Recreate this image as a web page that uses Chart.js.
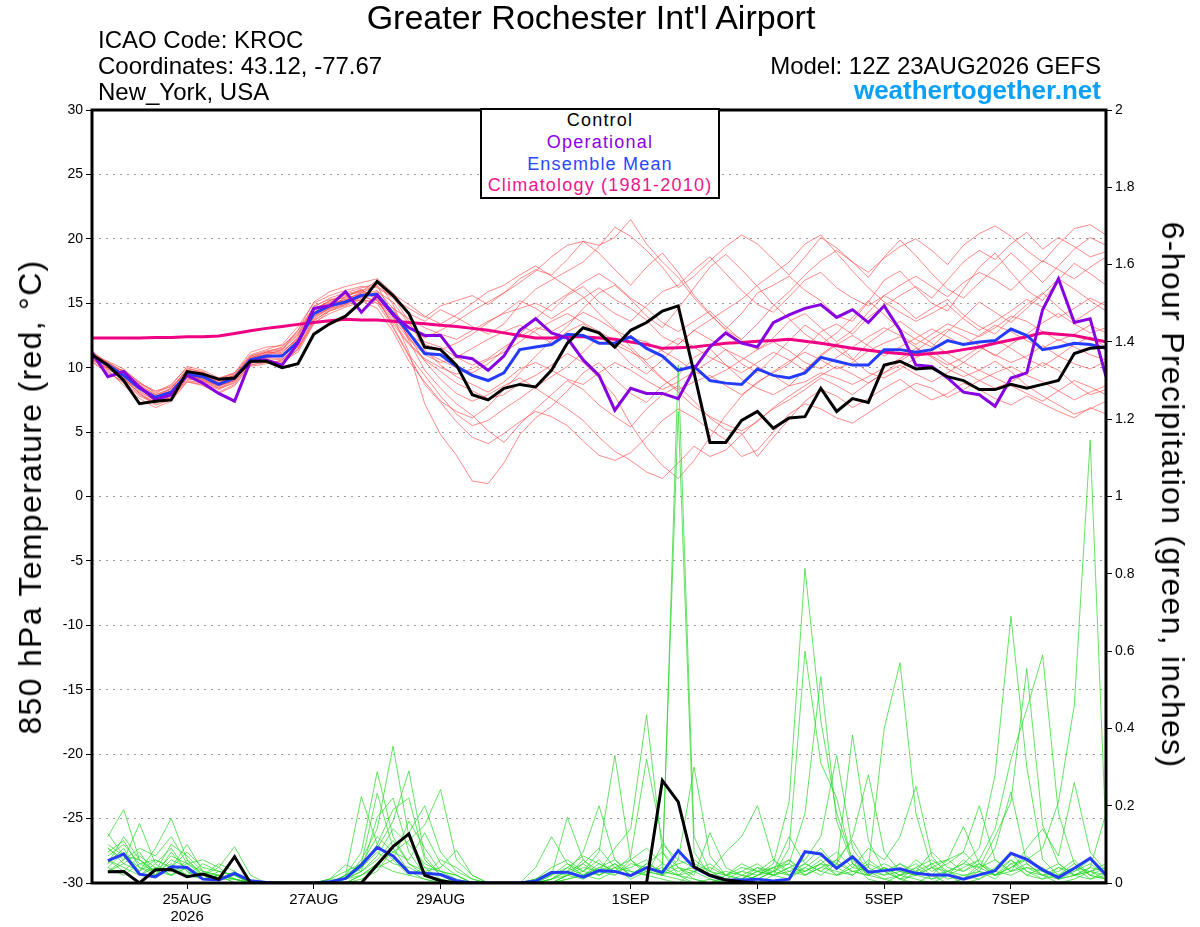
<!DOCTYPE html>
<html>
<head>
<meta charset="utf-8">
<title>KROC GEFS 850 hPa temperature and 6-hour precipitation</title>
<script src="https://cdn.jsdelivr.net/npm/chart.js@4/dist/chart.umd.min.js"></script>
<style>
  body { margin: 0; background: #fff; }
  #wrap { position: relative; width: 1200px; height: 927px; font-family: 'Liberation Sans', Arial, sans-serif; color: #000; overflow: hidden; }
  #chart { position: absolute; left: 0; top: 0; }
  .txt { position: absolute; white-space: nowrap; line-height: 1; }
  #title { left: 591px; top: 0px; font-size: 34px; transform: translateX(-50%); }
  .info { left: 98px; font-size: 24px; }
  .right { right: 99px; text-align: right; }
  #site { font-size: 26px; font-weight: bold; color: #0aa0f5; top: 77px; }
  #legend { position: absolute; left: 480px; top: 108px; width: 240px; height: 91px; box-sizing: border-box;
            border: 2px solid #000; background: #fff; text-align: center; font-size: 18px; letter-spacing: 1.2px;
            line-height: 21.7px; padding-top: 0.2px; z-index: 2; }
  .axisTitle { position: absolute; white-space: nowrap; line-height: 1; font-size: 32px; letter-spacing: 1.3px; }
  #leftTitle { left: 30px; top: 497px; transform: translate(-50%, -50%) rotate(-90deg); }
  #rightTitle { left: 1173px; top: 495px; transform: translate(-50%, -50%) rotate(90deg); }
</style>
</head>
<body>
<div id="wrap">
  <canvas id="chart" width="1200" height="927"></canvas>
  <div class="txt" id="title">Greater Rochester Int'l Airport</div>
  <div class="txt info" style="top:28px">ICAO Code: KROC</div>
  <div class="txt info" style="top:54px">Coordinates: 43.12, -77.67</div>
  <div class="txt info" style="top:80px">New_York, USA</div>
  <div class="txt right" style="top:54px; font-size:24px">Model: 12Z 23AUG2026 GEFS</div>
  <div class="txt right" id="site">weathertogether.net</div>
  <div id="legend">
    <div style="color:#000">Control</div>
    <div style="color:#8c00e6">Operational</div>
    <div style="color:#2848ff">Ensemble Mean</div>
    <div style="color:#f0148c">Climatology (1981-2010)</div>
  </div>
  <div class="axisTitle" id="leftTitle">850 hPa Temperature (red, °C)</div>
  <div class="axisTitle" id="rightTitle">6-hour Precipitation (green, inches)</div>
</div>

<script>
// forecast hours from 12Z 23AUG2026, every 6 hours out to 384 h
const forecastHours = [0,6,12,18,24,30,36,42,48,54,60,66,72,78,84,90,96,102,108,114,120,126,132,138,144,150,156,162,168,174,180,186,192,198,204,210,216,222,228,234,240,246,252,258,264,270,276,282,288,294,300,306,312,318,324,330,336,342,348,354,360,366,372,378,384];

// date ticks (00Z of each labelled day)
const tickHours = [36, 84, 132, 204, 252, 300, 348];
const tickLabels = [['25AUG', '2026'], '27AUG', '29AUG', '1SEP', '3SEP', '5SEP', '7SEP'];

// 850 hPa temperature (C)
const controlTemp = [
  11.0, 10.2, 9.0, 7.2, 7.4, 7.5, 9.7, 9.5, 9.1, 9.2,
  10.5, 10.5, 10.0, 10.3, 12.6, 13.4, 14.0, 15.1, 16.7, 15.6,
  14.2, 11.6, 11.4, 10.2, 7.9, 7.5, 8.4, 8.7, 8.5, 9.8,
  11.9, 13.1, 12.7, 11.6, 12.9, 13.5, 14.4, 14.8, 9.6, 4.2,
  4.2, 5.9, 6.6, 5.3, 6.1, 6.2, 8.4, 6.6, 7.6, 7.3,
  10.2, 10.5, 9.9, 10.0, 9.3, 9.0, 8.3, 8.3, 8.7, 8.4,
  8.7, 9.0, 11.1, 11.5, 11.6
];
const operationalTemp = [
  11.2, 9.3, 9.7, 8.5, 7.5, 7.9, 9.4, 8.8, 8.0, 7.4,
  10.5, 10.6, 10.2, 11.9, 14.6, 14.8, 15.9, 14.3, 15.6, 14.1,
  13.1, 12.5, 12.5, 10.9, 10.7, 9.8, 10.9, 12.9, 13.8, 12.7,
  12.3, 10.6, 9.4, 6.7, 8.4, 8.0, 8.0, 7.6, 9.9, 11.6,
  12.7, 11.9, 11.6, 13.5, 14.1, 14.6, 14.9, 13.9, 14.5, 13.5,
  14.8, 12.9, 10.2, 10.1, 9.2, 8.1, 7.9, 7.0, 9.2, 9.6,
  14.5, 16.9, 13.5, 13.8, 9.3
];
const meanTemp = [
  10.9, 10.2, 9.4, 8.4, 7.7, 8.1, 9.5, 9.3, 8.7, 9.2,
  10.6, 10.9, 10.9, 12.0, 14.2, 14.8, 15.1, 15.6, 15.7, 14.2,
  12.7, 11.1, 11.0, 10.1, 9.4, 9.0, 9.6, 11.4, 11.6, 11.8,
  12.6, 12.5, 11.9, 11.9, 12.4, 11.5, 10.9, 9.8, 10.1, 9.0,
  8.8, 8.7, 9.9, 9.4, 9.2, 9.6, 10.8, 10.5, 10.2, 10.2,
  11.4, 11.4, 11.2, 11.4, 12.1, 11.8, 12.0, 12.1, 13.0, 12.5,
  11.4, 11.6, 11.9, 11.8, 11.5
];
const climatologyTemp = [
  12.3, 12.3, 12.3, 12.3, 12.35, 12.35, 12.4, 12.4, 12.45, 12.66,
  12.87, 13.05, 13.2, 13.36, 13.5, 13.65, 13.75, 13.7, 13.7, 13.6,
  13.5, 13.4, 13.3, 13.2, 13.05, 12.9, 12.7, 12.5, 12.3, 12.3,
  12.4, 12.4, 12.3, 12.2, 12.0, 11.8, 11.5, 11.55, 11.6, 11.75,
  11.9, 11.95, 12.05, 12.1, 12.2, 12.05, 11.9, 11.7, 11.5, 11.35,
  11.2, 11.1, 11.0, 11.1, 11.2, 11.4, 11.6, 11.9, 12.15, 12.4,
  12.7, 12.6, 12.5, 12.25, 12.0
];

// ensemble member temperatures
const tempM01 = [
  11.2, 10.0, 9.8, 8.9, 8.0, 8.6, 10.1, 9.8, 9.2, 9.6,
  11.0, 11.4, 11.8, 13.2, 15.0, 15.6, 16.0, 16.3, 16.2, 15.4,
  14.6, 13.9, 14.8, 15.2, 15.6, 14.9, 15.8, 16.9, 17.6, 17.2,
  18.4, 19.8, 19.5, 20.1, 21.5, 19.6, 18.2, 17.0, 15.4, 14.1,
  13.0, 14.2, 15.8, 16.4, 17.1, 16.0, 15.2, 14.0, 13.6, 15.1,
  16.8, 17.5, 16.2, 15.0, 14.4, 16.1, 17.8, 18.9, 17.4, 16.0,
  15.2, 16.8, 18.1, 17.3, 16.4
];
const tempM02 = [
  10.7, 9.8, 8.6, 7.6, 6.9, 7.4, 8.9, 8.6, 8.0, 8.6,
  10.1, 10.3, 10.6, 11.4, 13.6, 14.5, 15.0, 15.8, 16.4, 14.0,
  11.2, 7.2, 4.8, 3.2, 1.2, 1.0, 2.6, 4.8, 6.1, 7.0,
  8.2, 9.6, 10.4, 9.1, 8.0, 7.3, 8.6, 9.4, 10.8, 11.5,
  10.2, 9.1, 8.4, 7.9, 8.6, 9.8, 11.0, 11.9, 10.7, 9.6,
  9.2, 9.9, 10.8, 11.3, 10.4, 9.7, 9.0, 8.4, 8.9, 9.6,
  10.4, 9.8, 8.7, 7.9, 8.3
];
const tempM03 = [
  10.4, 9.6, 8.9, 7.9, 7.3, 7.7, 9.0, 8.8, 8.3, 8.9,
  10.2, 10.5, 10.2, 11.5, 13.8, 14.6, 15.5, 16.1, 15.2, 13.4,
  11.8, 10.6, 9.7, 8.8, 8.2, 7.6, 7.9, 8.8, 9.4, 10.2,
  11.1, 10.4, 9.2, 7.8, 5.6, 3.8, 2.4, 1.4, 2.8, 4.6,
  6.3, 7.8, 8.9, 9.6, 10.3, 11.5, 12.8, 13.4, 12.6, 13.9,
  14.8, 15.6, 16.3, 15.4, 16.8, 18.2, 19.1, 18.4, 19.6, 20.5,
  19.2, 20.1, 19.4, 18.6, 19.0
];
const tempM04 = [
  11.0, 10.5, 9.9, 8.8, 8.2, 8.5, 9.7, 9.6, 9.1, 9.5,
  10.9, 11.3, 11.5, 12.6, 14.8, 15.3, 15.4, 15.7, 15.0, 14.6,
  13.8, 13.1, 12.6, 12.2, 12.9, 13.6, 14.2, 14.6, 15.0, 14.4,
  15.6, 16.3, 15.1, 14.2, 13.6, 14.8, 15.9, 16.4, 17.6, 18.6,
  17.3, 16.0, 14.9, 14.3, 15.5, 16.8, 17.4, 16.2, 15.4, 14.8,
  15.6, 14.9, 13.8, 14.6, 15.3, 14.1, 13.2, 12.6, 13.8, 14.9,
  15.8, 14.7, 13.6, 14.4, 15.2
];
const tempM05 = [
  10.6, 9.9, 9.1, 8.0, 7.1, 7.5, 9.2, 8.9, 8.4, 8.8,
  10.4, 10.7, 10.6, 11.8, 13.9, 14.6, 15.2, 15.9, 16.8, 14.9,
  12.1, 9.8, 8.4, 7.2, 6.3, 5.1, 4.2, 5.6, 6.8, 7.9,
  9.0, 8.3, 7.1, 6.2, 5.4, 6.8, 7.9, 8.6, 7.4, 6.1,
  5.2, 4.9, 3.1, 4.6, 6.0, 7.4, 8.3, 7.8, 6.9, 7.6,
  8.4, 9.1, 8.2, 7.5, 8.0, 8.8, 8.3, 7.6, 7.1, 7.8,
  7.2, 6.6, 6.1, 6.9, 6.4
];
const tempM06 = [
  11.3, 10.3, 9.5, 8.6, 7.9, 8.3, 9.8, 9.4, 8.9, 9.3,
  10.8, 11.0, 11.2, 12.3, 14.0, 14.6, 14.9, 15.4, 15.9, 15.1,
  13.4, 12.0, 11.6, 10.8, 10.2, 10.7, 11.6, 12.4, 13.1, 12.8,
  13.5, 14.3, 13.7, 12.9, 12.3, 12.0, 11.3, 10.6, 9.7, 9.2,
  9.8, 10.6, 11.4, 12.0, 11.3, 10.4, 9.9, 10.8, 11.6, 12.4,
  13.1, 12.5, 11.8, 12.6, 13.4, 12.9, 12.4, 13.1, 14.0, 13.6,
  12.8, 12.1, 12.6, 13.3, 12.7
];
const tempM07 = [
  10.8, 10.1, 9.3, 8.3, 7.6, 8.0, 9.4, 9.1, 8.5, 9.1,
  10.5, 10.8, 10.7, 11.6, 13.7, 14.4, 14.8, 15.3, 15.0, 13.1,
  10.9, 8.7, 7.3, 5.8, 4.6, 4.1, 4.9, 5.8, 6.6, 6.2,
  5.5, 4.3, 3.2, 2.8, 3.4, 4.6, 5.9, 6.8, 6.1, 5.2,
  4.4, 3.1, 3.6, 5.0, 6.4, 7.2, 6.8, 6.1, 5.7, 6.5,
  7.3, 8.1, 8.8, 8.4, 7.7, 8.3, 9.0, 9.6, 10.1, 9.4,
  8.9, 8.2, 7.5, 8.1, 8.6
];
const tempM08 = [
  11.1, 10.4, 9.6, 8.7, 7.9, 8.4, 9.9, 9.7, 9.0, 9.4,
  10.7, 11.2, 11.1, 12.4, 14.5, 15.2, 15.7, 16.0, 15.5, 14.4,
  13.1, 12.3, 12.9, 13.6, 14.4, 15.1, 15.8, 16.6, 17.5, 18.6,
  19.5, 19.8, 18.9, 17.6, 16.4, 17.8, 18.9, 17.4, 15.6, 14.2,
  12.9, 12.2, 13.4, 14.8, 15.9, 17.2, 18.3, 19.1, 18.2, 17.0,
  18.6, 19.9, 18.7, 17.3, 16.1, 15.4, 16.6, 17.7, 18.9, 17.8,
  16.6, 17.9, 19.2, 20.1, 19.5
];
const tempM09 = [
  10.5, 9.7, 8.8, 7.8, 7.2, 7.9, 9.3, 9.2, 8.6, 9.0,
  10.4, 10.6, 10.4, 11.4, 13.5, 14.2, 14.7, 15.1, 15.3, 13.8,
  12.2, 11.0, 10.4, 10.8, 11.5, 12.2, 12.8, 13.3, 12.7, 11.9,
  12.8, 13.4, 12.6, 11.8, 11.2, 10.6, 11.4, 12.3, 11.6, 10.8,
  10.2, 9.6, 10.4, 11.2, 10.6, 9.8, 10.9, 11.8, 12.5, 11.7,
  10.9, 11.6, 12.3, 13.0, 12.4, 11.7, 12.5, 13.3, 12.8, 12.1,
  11.5, 12.2, 11.6, 11.0, 10.6
];
const tempM10 = [
  10.9, 10.0, 9.2, 8.2, 7.4, 7.8, 9.1, 9.0, 8.4, 9.0,
  10.6, 11.1, 11.3, 12.2, 14.3, 15.0, 15.3, 15.2, 14.6, 12.8,
  10.5, 8.9, 7.4, 6.6, 6.1, 7.0, 8.3, 9.6, 10.9, 12.1,
  13.2, 14.6, 15.8, 16.4, 15.3, 14.0, 13.1, 14.6, 16.2, 17.8,
  18.8, 17.6, 16.3, 14.9, 13.8, 12.6, 11.8, 12.7, 13.9, 15.2,
  14.1, 13.0, 12.2, 11.6, 12.8, 13.9, 15.1, 14.3, 13.5, 14.6,
  15.7, 16.9, 16.1, 15.2, 14.4
];
const tempM11 = [
  11.0, 10.3, 9.5, 8.5, 7.8, 8.2, 9.6, 9.4, 8.8, 9.3,
  10.7, 10.9, 11.0, 12.1, 14.1, 14.9, 15.3, 15.8, 15.6, 14.0,
  12.4, 10.5, 9.1, 8.0, 7.4, 7.9, 8.6, 9.2, 8.4, 7.6,
  6.8, 5.9, 4.6, 3.5, 2.8, 1.9, 1.4, 2.6, 3.9, 3.1,
  3.6, 4.8, 5.9, 6.8, 7.5, 8.3, 9.2, 8.6, 7.9, 8.8,
  9.6, 10.2, 9.5, 8.9, 9.6, 10.4, 9.8, 9.2, 8.6, 8.0,
  7.4, 8.2, 9.0, 8.5, 7.9
];
const tempM12 = [
  10.7, 10.2, 9.4, 8.5, 7.8, 8.0, 9.4, 9.2, 8.8, 9.3,
  10.6, 11.0, 11.4, 12.9, 15.1, 15.9, 16.3, 16.6, 16.9, 15.8,
  14.2, 13.6, 14.5, 13.9, 13.2, 12.6, 13.4, 14.9, 16.1, 16.8,
  17.5, 18.2, 19.4, 20.9, 20.2, 19.1, 17.8, 16.2, 17.1, 18.3,
  19.4, 20.3, 19.6, 18.4, 17.2, 18.6, 20.1, 19.3, 18.2, 17.4,
  18.5, 19.4, 20.0, 19.1, 18.0, 19.5, 20.4, 21.0, 20.2, 19.1,
  18.2, 19.6, 20.8, 21.1, 20.3
];
const tempM13 = [
  11.2, 10.4, 9.7, 8.8, 8.1, 8.7, 10.0, 9.6, 9.1, 9.6,
  11.2, 11.6, 11.7, 12.7, 14.6, 15.1, 15.5, 16.0, 16.3, 15.5,
  13.6, 11.4, 10.2, 9.3, 8.7, 8.1, 8.9, 9.9, 10.4, 9.8,
  9.1, 8.7, 9.6, 10.4, 9.8, 9.0, 8.3, 8.9, 9.7, 10.5,
  11.4, 10.8, 10.1, 9.4, 8.6, 8.9, 9.6, 9.2, 8.7, 9.3,
  10.0, 10.7, 11.5, 10.9, 10.2, 10.8, 11.6, 11.0, 10.4, 10.9,
  11.7, 10.9, 10.3, 9.9, 10.5
];
const tempM14 = [
  10.6, 10.0, 9.0, 8.1, 7.5, 7.6, 8.9, 8.7, 8.1, 8.7,
  10.2, 10.4, 10.5, 11.2, 13.4, 14.4, 14.9, 15.6, 16.0, 14.6,
  12.6, 11.8, 11.4, 11.9, 12.6, 13.5, 14.3, 15.2, 14.6, 13.8,
  14.6, 15.4, 16.2, 15.3, 14.6, 13.7, 12.4, 11.8, 12.9, 13.7,
  14.5, 15.3, 16.4, 17.3, 18.2, 19.6, 20.3, 18.9, 17.5, 16.2,
  15.1, 14.3, 13.6, 14.2, 14.9, 13.8, 12.9, 13.6, 14.4, 15.3,
  14.7, 13.9, 14.6, 15.4, 14.8
];
const tempM15 = [
  10.9, 10.4, 9.7, 8.6, 7.7, 8.2, 9.6, 9.5, 9.0, 9.4,
  10.8, 11.2, 11.4, 12.5, 14.6, 15.0, 15.2, 15.5, 15.2, 13.6,
  11.9, 10.7, 10.0, 9.5, 9.9, 10.6, 11.2, 12.0, 12.9, 13.6,
  14.2, 13.5, 12.8, 12.1, 11.4, 10.2, 9.1, 8.3, 8.9, 9.4,
  8.6, 7.9, 8.8, 9.7, 10.5, 11.2, 10.6, 9.9, 10.4, 11.3,
  11.9, 12.4, 11.6, 10.8, 9.9, 9.3, 9.8, 10.5, 9.7, 8.6,
  7.8, 7.1, 6.4, 6.8, 7.4
];
const tempM16 = [
  10.8, 10.1, 9.2, 8.0, 7.3, 7.9, 9.5, 9.0, 8.6, 9.1,
  10.3, 10.8, 11.0, 12.2, 14.4, 15.2, 15.6, 15.9, 15.4, 13.2,
  11.0, 9.4, 7.8, 6.4, 5.5, 5.9, 6.8, 7.6, 8.5, 9.3,
  10.1, 11.2, 12.4, 11.6, 10.3, 9.5, 10.6, 11.8, 12.9, 12.2,
  11.4, 10.3, 9.6, 10.8, 12.1, 13.3, 12.5, 11.4, 10.6, 11.9,
  12.8, 13.6, 12.7, 11.9, 11.1, 10.4, 11.3, 12.2, 11.5, 10.7,
  10.1, 10.9, 11.8, 12.4, 11.6
];
const tempM17 = [
  11.1, 10.2, 9.1, 8.3, 7.7, 8.4, 9.8, 9.6, 8.8, 9.4,
  10.9, 11.2, 11.6, 12.9, 14.7, 15.4, 15.8, 16.2, 16.5, 15.7,
  14.9, 14.0, 13.4, 14.1, 15.0, 15.9, 16.4, 17.2, 17.9, 17.1,
  16.3, 15.5, 14.2, 13.0, 11.6, 10.4, 9.2, 8.1, 7.0, 6.2,
  5.6, 5.1, 5.8, 6.9, 7.8, 8.6, 9.4, 10.1, 9.5, 8.8,
  9.6, 10.5, 11.3, 12.2, 13.0, 12.4, 11.7, 10.9, 11.8, 12.6,
  13.5, 14.2, 13.4, 12.7, 13.1
];
const tempM18 = [
  10.7, 9.9, 9.3, 8.4, 7.6, 8.1, 9.3, 9.1, 8.6, 9.0,
  10.5, 10.8, 11.0, 12.0, 14.0, 14.7, 15.0, 15.5, 15.8, 14.3,
  12.3, 11.2, 10.6, 10.0, 9.6, 10.3, 11.4, 12.6, 13.8, 14.9,
  15.7, 16.6, 17.3, 16.5, 15.4, 14.6, 13.5, 12.8, 13.6, 14.4,
  13.2, 12.1, 11.4, 12.3, 13.6, 14.2, 13.1, 12.0, 12.9, 14.3,
  15.6, 16.4, 17.1, 16.3, 15.5, 16.6, 17.4, 16.8, 16.0, 17.2,
  18.3, 17.6, 16.9, 17.8, 18.6
];

// 6-hour precipitation (inches); no value at hour 0
const controlPrecip = [
  null, 0.029, 0.03, 0, 0.034, 0.035, 0.016, 0.023, 0.01, 0.068,
  0, 0, 0, 0, 0, 0, 0, 0, 0.047, 0.094,
  0.127, 0.02, 0.006, 0, 0, 0, 0, 0, 0, 0,
  0, 0, 0, 0, 0, 0, 0.265, 0.21, 0.042, 0.02,
  0.008, 0.003, 0, 0, 0, 0, 0, 0, 0, 0,
  0, 0, 0, 0, 0, 0, 0, 0, 0, 0,
  0, 0, 0, 0, 0
];
const meanPrecip = [
  null, 0.058, 0.075, 0.023, 0.016, 0.042, 0.04, 0.01, 0.008, 0.025,
  0.006, 0.001, 0, 0, 0, 0.003, 0.012, 0.047, 0.092, 0.07,
  0.027, 0.025, 0.022, 0.006, 0, 0, 0, 0, 0.005, 0.027,
  0.028, 0.015, 0.032, 0.03, 0.019, 0.04, 0.027, 0.084, 0.04, 0.019,
  0.008, 0.008, 0.01, 0.005, 0.01, 0.081, 0.075, 0.038, 0.068, 0.028,
  0.032, 0.037, 0.025, 0.021, 0.021, 0.01, 0.021, 0.032, 0.077, 0.061,
  0.034, 0.014, 0.038, 0.064, 0.021
];

// ensemble member precipitation
const precipM01 = [
  null, 0.12, 0.19, 0.06, 0.03, 0.05, 0.02, 0.01, 0.03, 0.02,
  0, 0, 0, 0, 0, 0, 0.01, 0.06, 0.14, 0.354,
  0.12, 0.04, 0.01, 0, 0, 0, 0, 0, 0, 0.02,
  0.05, 0.03, 0.08, 0.33, 0.06, 0.02, 0.01, 0, 0.03, 0.01,
  0, 0, 0.02, 0.05, 0.21, 0.814, 0.42, 0.18, 0.06, 0.02,
  0.01, 0, 0.03, 0.02, 0, 0.01, 0.04, 0.02, 0.06, 0.03,
  0.01, 0.02, 0.05, 0.02, 0.01
];
const precipM02 = [
  null, 0.09, 0.06, 0.154, 0.05, 0.02, 0.04, 0.01, 0.02, 0,
  0, 0, 0, 0, 0, 0, 0.02, 0.08, 0.288, 0.12,
  0.05, 0.02, 0, 0, 0, 0, 0, 0, 0.01, 0.03,
  0.02, 0.06, 0.03, 0.09, 0.14, 0.435, 0.08, 0.02, 0, 0.01,
  0, 0.01, 0.03, 0.02, 0.09, 0.6, 0.31, 0.22, 0.05, 0.01,
  0, 0.02, 0.01, 0, 0.02, 0.06, 0.03, 0.09, 0.236, 0.05,
  0.02, 0, 0.01, 0.03, 0.02
];
const precipM03 = [
  null, 0.04, 0.08, 0.03, 0.09, 0.167, 0.06, 0.02, 0.01, 0.01,
  0, 0, 0, 0, 0, 0.01, 0.03, 0.05, 0.232, 0.09,
  0.03, 0.01, 0, 0, 0, 0, 0, 0, 0, 0.01,
  0.04, 0.02, 0.05, 0.03, 0.07, 0.32, 0.11, 0.04, 0.01, 0,
  0.01, 0, 0.02, 0.04, 0.05, 0.18, 0.534, 0.16, 0.05, 0.02,
  0.04, 0.01, 0, 0.02, 0.03, 0.01, 0.05, 0.02, 0.04, 0.07,
  0.03, 0.01, 0.02, 0.04, 0.18
];
const precipM04 = [
  null, 0.128, 0.07, 0.04, 0.02, 0.08, 0.03, 0.01, 0.02, 0,
  0, 0, 0, 0, 0, 0, 0.02, 0.223, 0.1, 0.06,
  0.02, 0.01, 0, 0, 0, 0, 0, 0, 0.01, 0.02,
  0.17, 0.06, 0.02, 0.04, 0.01, 0.03, 0.02, 0.01, 0, 0,
  0, 0.02, 0.01, 0.03, 0.12, 0.05, 0.09, 0.04, 0.383, 0.11,
  0.03, 0.01, 0.02, 0.05, 0.02, 0, 0.01, 0.03, 0.06, 0.02,
  0.01, 0.04, 0.02, 0.01, 0.03
];
const precipM05 = [
  null, 0.07, 0.1, 0.05, 0.06, 0.04, 0.1, 0.03, 0.01, 0.02,
  0, 0, 0, 0, 0, 0.01, 0.01, 0.04, 0.09, 0.16,
  0.29, 0.07, 0.02, 0, 0, 0, 0, 0, 0, 0.01,
  0.03, 0.08, 0.2, 0.06, 0.02, 0.05, 0.03, 0.02, 0.01, 0,
  0.02, 0.01, 0, 0.02, 0.04, 0.06, 0.12, 0.33, 0.09, 0.03,
  0.01, 0.02, 0.04, 0.01, 0.03, 0.02, 0.01, 0.04, 0.08, 0.03,
  0.02, 0.01, 0.03, 0.06, 0.02
];
const precipM06 = [
  null, 0.05, 0.09, 0.02, 0.04, 0.03, 0.05, 0.06, 0.04, 0.094,
  0.02, 0, 0, 0, 0, 0, 0, 0.02, 0.05, 0.08,
  0.11, 0.15, 0.242, 0.06, 0.02, 0, 0, 0, 0, 0,
  0.01, 0.02, 0.01, 0.03, 0.04, 0.06, 0.02, 1.34, 0.12, 0.03,
  0.01, 0, 0.02, 0.03, 0.02, 0.05, 0.03, 0.06, 0.11, 0.04,
  0.4, 0.57, 0.18, 0.04, 0.01, 0.02, 0.03, 0.01, 0.05, 0.02,
  0.04, 0.01, 0.02, 0.03, 0.01
];
const precipM07 = [
  null, 0.03, 0.05, 0.08, 0.02, 0.06, 0.04, 0.02, 0.05, 0.03,
  0, 0, 0, 0, 0, 0, 0.01, 0.03, 0.06, 0.11,
  0.05, 0.03, 0.04, 0.085, 0.02, 0, 0, 0, 0, 0,
  0.02, 0.04, 0.03, 0.02, 0.06, 0.09, 0.05, 1.22, 0.08, 0.02,
  0, 0.01, 0.03, 0.02, 0.01, 0.04, 0.07, 0.05, 0.12, 0.28,
  0.08, 0.03, 0.02, 0.01, 0.02, 0.04, 0.06, 0.02, 0.03, 0.04,
  0.02, 0.03, 0.06, 0.02, 0.01
];
const precipM08 = [
  null, 0.06, 0.04, 0.02, 0.05, 0.09, 0.03, 0.01, 0.02, 0.01,
  0, 0, 0, 0, 0, 0, 0.02, 0.05, 0.12, 0.08,
  0.06, 0.13, 0.05, 0.02, 0, 0, 0, 0, 0, 0.01,
  0.02, 0.05, 0.09, 0.04, 0.03, 0.02, 0.1, 0.06, 0.3, 0.07,
  0.02, 0.01, 0.04, 0.03, 0.06, 0.02, 0.05, 0.08, 0.04, 0.09,
  0.06, 0.12, 0.25, 0.07, 0.02, 0.01, 0.03, 0.02, 0.05, 0.06,
  0.03, 0.02, 0.04, 0.01, 0.02
];
const precipM09 = [
  null, 0.06, 0.03, 0.07, 0.04, 0.02, 0.06, 0.02, 0.01, 0.03,
  0, 0, 0, 0, 0, 0.01, 0.047, 0.03, 0.17, 0.22,
  0.08, 0.02, 0.01, 0, 0, 0, 0, 0, 0.01, 0.04,
  0.06, 0.03, 0.02, 0.05, 0.02, 0.04, 0.03, 0.05, 0.06, 0.03,
  0.08, 0.12, 0.2, 0.06, 0.03, 0.02, 0.04, 0.03, 0.02, 0.05,
  0.03, 0.01, 0.04, 0.06, 0.03, 0.05, 0.09, 0.28, 0.69, 0.3,
  0.06, 0.02, 0.04, 0.03, 0.05
];
const precipM10 = [
  null, 0.08, 0.11, 0.04, 0.03, 0.07, 0.05, 0.03, 0.02, 0.01,
  0, 0, 0, 0, 0, 0, 0, 0.02, 0.04, 0.06,
  0.16, 0.09, 0.03, 0.01, 0, 0, 0, 0, 0, 0.02,
  0.04, 0.07, 0.05, 0.03, 0.02, 0.05, 0.08, 0.04, 0.02, 0.13,
  0.04, 0.02, 0.01, 0.03, 0.05, 0.02, 0.04, 0.06, 0.03, 0.02,
  0.04, 0.02, 0.06, 0.03, 0.05, 0.08, 0.04, 0.12, 0.21, 0.555,
  0.15, 0.05, 0.02, 0.04, 0.03
];
const precipM11 = [
  null, 0.1, 0.07, 0.06, 0.02, 0.04, 0.08, 0.04, 0.03, 0.02,
  0, 0, 0, 0, 0, 0, 0.01, 0.04, 0.1, 0.19,
  0.22, 0.06, 0.02, 0, 0, 0, 0, 0, 0.04, 0.12,
  0.05, 0.02, 0.04, 0.06, 0.03, 0.02, 0.05, 0.03, 0.04, 0.02,
  0.01, 0.03, 0.05, 0.02, 0.04, 0.03, 0.06, 0.02, 0.05, 0.03,
  0.02, 0.05, 0.03, 0.08, 0.04, 0.03, 0.06, 0.14, 0.32, 0.45,
  0.59, 0.18, 0.05, 0.02, 0.04
];
const precipM12 = [
  null, 0.03, 0.06, 0.09, 0.07, 0.12, 0.05, 0.02, 0.04, 0.01,
  0, 0, 0, 0, 0, 0, 0, 0.01, 0.03, 0.09,
  0.13, 0.2, 0.08, 0.03, 0.01, 0, 0, 0, 0, 0,
  0.02, 0.03, 0.06, 0.02, 0.05, 0.04, 0.02, 0.04, 0.03, 0.05,
  0.02, 0.04, 0.03, 0.06, 0.02, 0.04, 0.02, 0.05, 0.03, 0.04,
  0.02, 0.03, 0.05, 0.02, 0.06, 0.03, 0.05, 0.02, 0.04, 0.06,
  0.09, 0.21, 0.46, 1.146, 0.12
];
const precipM13 = [
  null, 0.05, 0.12, 0.06, 0.03, 0.1, 0.07, 0.03, 0.02, 0.01,
  0, 0, 0, 0, 0, 0, 0.01, 0.03, 0.07, 0.14,
  0.1, 0.05, 0.03, 0.02, 0, 0, 0, 0, 0, 0.01,
  0.03, 0.05, 0.02, 0.04, 0.06, 0.03, 0.04, 0.02, 0.05, 0.03,
  0.02, 0.05, 0.03, 0.04, 0.06, 0.03, 0.05, 0.04, 0.02, 0.06,
  0.03, 0.05, 0.02, 0.04, 0.03, 0.05, 0.04, 0.06, 0.03, 0.09,
  0.14, 0.07, 0.26, 0.08, 0.03
];
const precipM14 = [
  null, 0.09, 0.05, 0.03, 0.06, 0.04, 0.02, 0.05, 0.03, 0.02,
  0, 0, 0, 0, 0, 0, 0.02, 0.04, 0.08, 0.05,
  0.04, 0.02, 0.06, 0.04, 0.01, 0, 0, 0, 0, 0,
  0.01, 0.02, 0.04, 0.03, 0.02, 0.03, 0.02, 0.06, 0.04, 0.02,
  0.03, 0.02, 0.04, 0.02, 0.03, 0.05, 0.03, 0.02, 0.04, 0.03,
  0.05, 0.03, 0.02, 0.04, 0.06, 0.08, 0.2, 0.06, 0.03, 0.05,
  0.02, 0.04, 0.03, 0.05, 0.02
];
const precipM15 = [
  null, 0.04, 0.02, 0.05, 0.03, 0.02, 0.04, 0.01, 0.02, 0.01,
  0, 0, 0, 0, 0, 0, 0.01, 0.02, 0.05, 0.03,
  0.02, 0.04, 0.03, 0.02, 0, 0, 0, 0, 0, 0,
  0.02, 0.01, 0.03, 0.05, 0.02, 0.04, 0.03, 0.02, 0.03, 0.04,
  0.02, 0.03, 0.02, 0.04, 0.02, 0.03, 0.05, 0.02, 0.03, 0.02,
  0.04, 0.02, 0.03, 0.05, 0.06, 0.146, 0.05, 0.03, 0.02, 0.04,
  0.03, 0.05, 0.02, 0.03, 0.04
];

const tempMembers = [tempM01, tempM02, tempM03, tempM04, tempM05, tempM06, tempM07, tempM08, tempM09,
  tempM10, tempM11, tempM12, tempM13, tempM14, tempM15, tempM16, tempM17, tempM18];
const precipMembers = [precipM01, precipM02, precipM03, precipM04, precipM05, precipM06, precipM07, precipM08,
  precipM09, precipM10, precipM11, precipM12, precipM13, precipM14, precipM15];

const FONT = "'Liberation Sans', Arial, sans-serif";

function toPoints(values) {
  return values.map((v, i) => ({ x: forecastHours[i], y: v }));
}

function lineSet(label, values, axis, color, width, order) {
  return {
    label: label,
    data: toPoints(values),
    yAxisID: axis,
    borderColor: color,
    borderWidth: width,
    pointRadius: 0,
    fill: false,
    tension: 0,
    order: order
  };
}

// lower order is drawn on top
const datasets = [
  lineSet('Control', controlTemp, 'yT', '#000000', 3, 1),
  lineSet('Operational', operationalTemp, 'yT', 'rgb(135,0,225)', 3, 2),
  lineSet('Ensemble Mean', meanTemp, 'yT', 'rgb(35,60,255)', 3, 3),
  lineSet('Climatology (1981-2010)', climatologyTemp, 'yT', 'rgb(240,0,130)', 3, 4),
  lineSet('Control precip', controlPrecip, 'yP', '#000000', 3, 5),
  lineSet('Mean precip', meanPrecip, 'yP', 'rgb(35,60,255)', 3, 6)
];
precipMembers.forEach((m, i) => datasets.push(lineSet('precip member ' + (i + 1), m, 'yP', 'rgba(40,215,40,0.9)', 0.8, 10)));
tempMembers.forEach((m, i) => datasets.push(lineSet('temp member ' + (i + 1), m, 'yT', 'rgba(255,70,70,0.8)', 0.8, 20)));

// thick frame round the plot area, drawn over the lines
const framePlugin = {
  id: 'frame',
  afterDatasetsDraw(chart) {
    const { ctx, chartArea: a } = chart;
    ctx.save();
    ctx.strokeStyle = '#000';
    ctx.lineWidth = 3;
    ctx.strokeRect(a.left, a.top, a.right - a.left, a.bottom - a.top);
    ctx.restore();
  }
};

new Chart(document.getElementById('chart').getContext('2d'), {
  type: 'line',
  data: { datasets: datasets },
  plugins: [framePlugin],
  options: {
    responsive: false,
    animation: false,
    events: [],
    layout: { padding: { top: 110, left: 0, right: 0, bottom: 0 } },
    plugins: { legend: { display: false }, tooltip: { enabled: false }, title: { display: false } },
    scales: {
      x: {
        type: 'linear',
        min: 0,
        max: 384,
        afterBuildTicks: s => { s.ticks = tickHours.map(v => ({ value: v })); },
        afterFit: s => { s.height = 44; },
        border: { display: false },
        grid: { drawOnChartArea: false, tickLength: 6, tickColor: '#000', tickWidth: 1 },
        ticks: {
          autoSkip: false,
          maxRotation: 0,
          padding: 2,
          color: '#000',
          font: { family: FONT, size: 15, lineHeight: 1.15 },
          callback: (v, i) => tickLabels[i]
        }
      },
      yT: {
        position: 'left',
        min: -30,
        max: 30,
        afterFit: s => { s.width = 92; },
        border: { display: false, dash: [2, 5] },
        grid: {
          color: c => (c.tick && Math.abs(c.tick.value) === 30) ? 'rgba(0,0,0,0)' : '#9a9a9a',
          lineWidth: 1,
          tickLength: 6,
          tickColor: '#000'
        },
        ticks: { stepSize: 5, padding: 3, color: '#000', font: { family: FONT, size: 14 } }
      },
      yP: {
        position: 'right',
        min: 0,
        max: 2,
        afterFit: s => { s.width = 94; },
        border: { display: false },
        grid: { drawOnChartArea: false, tickLength: 6, tickColor: '#000' },
        ticks: {
          stepSize: 0.2,
          padding: 3,
          color: '#000',
          font: { family: FONT, size: 14 },
          callback: v => String(Math.round(v * 10) / 10)
        }
      }
    }
  }
});
</script>
</body>
</html>
